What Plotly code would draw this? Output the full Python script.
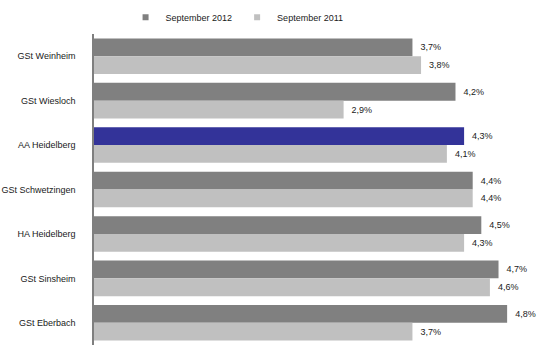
import plotly.graph_objects as go

categories = ["GSt Weinheim", "GSt Wiesloch", "AA Heidelberg", "GSt Schwetzingen",
              "HA Heidelberg", "GSt Sinsheim", "GSt Eberbach"]
sep_2012 = [3.7, 4.2, 4.3, 4.4, 4.5, 4.7, 4.8]
sep_2011 = [3.8, 2.9, 4.1, 4.4, 4.3, 4.6, 3.7]
series_names = ["September 2012", "September 2011"]
highlight = "AA Heidelberg"

DARK = "#808080"
LIGHT = "#c0c0c0"
BLUE = "#333399"
FONT = "Liberation Sans, Arial, sans-serif"

colors_2012 = [BLUE if c == highlight else DARK for c in categories]

fig = go.Figure()
for name, vals, cols in [(series_names[0], sep_2012, colors_2012),
                         (series_names[1], sep_2011, LIGHT)]:
    fig.add_trace(go.Bar(
        y=categories, x=vals, orientation="h", name=name,
        marker=dict(color=cols, line=dict(width=0)),
        texttemplate="\u00a0\u00a0%{x:.1f}%", textposition="outside",
        textfont=dict(size=9, color="#1a1a1a", family=FONT),
        cliponaxis=False, showlegend=False,
    ))

# legend entries with small square markers
for name, col in [(series_names[0], DARK), (series_names[1], LIGHT)]:
    fig.add_trace(go.Scatter(
        x=[None], y=[None], mode="markers", name=name,
        marker=dict(symbol="square", size=6, color=col), showlegend=True,
    ))

fig.update_layout(
    width=545, height=350,
    margin=dict(l=94, r=0, t=34, b=5),
    paper_bgcolor="white", plot_bgcolor="white",
    barmode="group", bargap=0.2, bargroupgap=0,
    separators=",.",
    font=dict(family=FONT, size=9, color="#1a1a1a"),
    showlegend=True,
    legend=dict(orientation="h", x=0.07, xanchor="left", y=1.054, yanchor="middle",
                font=dict(size=9, color="#1a1a1a"), bgcolor="rgba(0,0,0,0)",
                itemwidth=30, tracegroupgap=0),
    xaxis=dict(range=[0, 5.24], showgrid=False, zeroline=False, showticklabels=False,
               showline=False, ticks=""),
    yaxis=dict(autorange="reversed", showgrid=False, zeroline=False, showline=True,
               linecolor="#7f7f7f", linewidth=1.5, ticks="", ticklabelstandoff=15,
               tickfont=dict(size=9, color="#1a1a1a")),
)

fig.write_html("out.html")
